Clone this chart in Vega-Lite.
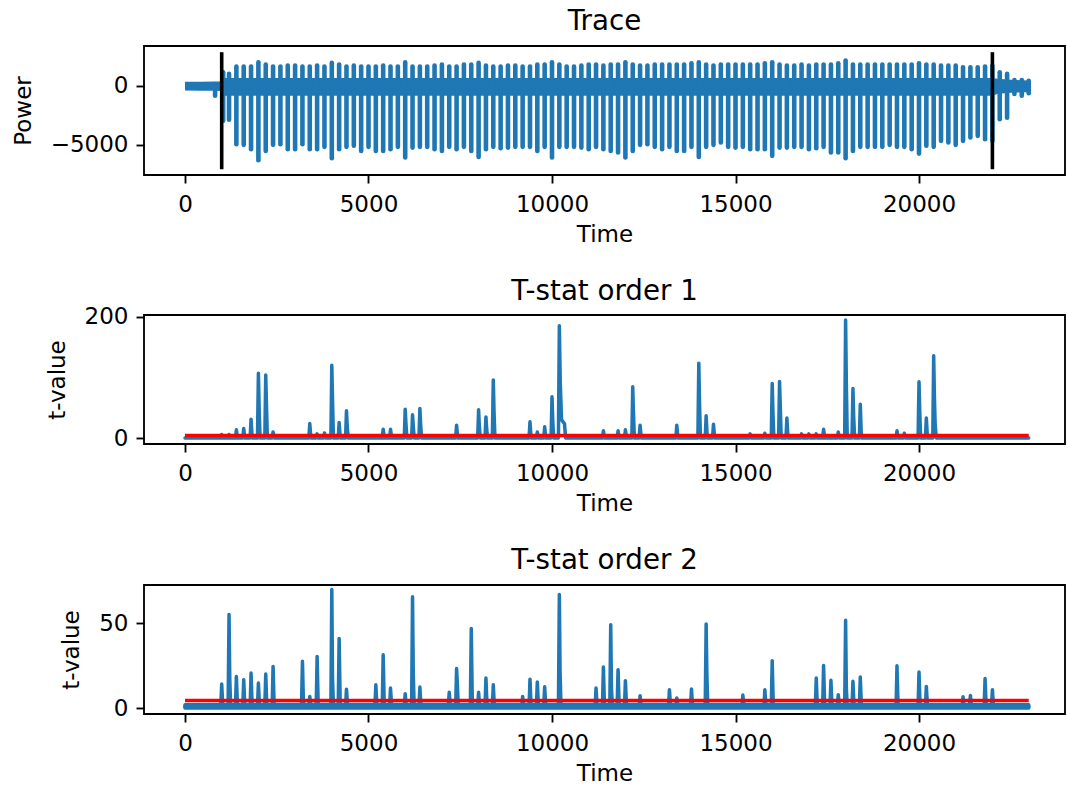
{
  "$schema": "https://vega.github.io/schema/vega-lite/v6.json",
  "padding": {"left": 11, "top": 7, "right": 0, "bottom": 0},
  "spacing": 30,
  "config": {
    "font": "DejaVu Sans",
    "view": {"stroke": "black", "strokeWidth": 1.85},
    "axis": {
      "domain": false, "grid": false, "ticks": true, "tickColor": "black", "tickWidth": 1.85, "tickSize": 8,
      "labelFont": "DejaVu Sans", "labelFontSize": 23, "labelColor": "black", "labelFlush": false,
      "titleFont": "DejaVu Sans", "titleFontSize": 23, "titleFontWeight": "normal", "titleColor": "black",
      "format": "d"
    },
    "axisX": {"labelPadding": 10, "titlePadding": 7},
    "axisY": {"labelPadding": 8, "titlePadding": 15},
    "title": {"font": "DejaVu Sans", "fontSize": 27.7, "fontWeight": "normal", "color": "black", "offset": 10, "baseline": "alphabetic"}
  },
  "datasets": {
    "trace_band": [
      {"t": 0, "lo": -420, "hi": 320},
      {"t": 400, "lo": -430, "hi": 330},
      {"t": 800, "lo": -440, "hi": 340},
      {"t": 990, "lo": -450, "hi": 350},
      {"t": 1000, "lo": -850, "hi": 650},
      {"t": 22000, "lo": -850, "hi": 650},
      {"t": 22150, "lo": -680, "hi": 580},
      {"t": 22500, "lo": -600, "hi": 500},
      {"t": 22990, "lo": -560, "hi": 440}
    ],
    "trace_spikes": [
      {"t": 820, "lo": -850, "hi": 0},
      {"t": 1040, "lo": -2970, "hi": 1130},
      {"t": 1200, "lo": -2880, "hi": 990},
      {"t": 1400, "lo": -4940, "hi": 1610},
      {"t": 1600, "lo": -5000, "hi": 1610},
      {"t": 1800, "lo": -5370, "hi": 1610},
      {"t": 2000, "lo": -6300, "hi": 1975},
      {"t": 2200, "lo": -5510, "hi": 1780},
      {"t": 2400, "lo": -5000, "hi": 1610},
      {"t": 2600, "lo": -4940, "hi": 1610},
      {"t": 2800, "lo": -5370, "hi": 1695},
      {"t": 3000, "lo": -5370, "hi": 1695},
      {"t": 3200, "lo": -4940, "hi": 1610},
      {"t": 3400, "lo": -5370, "hi": 1610},
      {"t": 3600, "lo": -5370, "hi": 1695},
      {"t": 3800, "lo": -5170, "hi": 1610},
      {"t": 4000, "lo": -6130, "hi": 1920},
      {"t": 4200, "lo": -5370, "hi": 1780},
      {"t": 4400, "lo": -5170, "hi": 1610},
      {"t": 4600, "lo": -5080, "hi": 1695},
      {"t": 4800, "lo": -5510, "hi": 1610},
      {"t": 5000, "lo": -5170, "hi": 1610},
      {"t": 5200, "lo": -5510, "hi": 1610},
      {"t": 5400, "lo": -5510, "hi": 1695},
      {"t": 5600, "lo": -5370, "hi": 1610},
      {"t": 5800, "lo": -5170, "hi": 1610},
      {"t": 6000, "lo": -6070, "hi": 1975},
      {"t": 6200, "lo": -5230, "hi": 1610},
      {"t": 6400, "lo": -5170, "hi": 1610},
      {"t": 6600, "lo": -5170, "hi": 1610},
      {"t": 6800, "lo": -5370, "hi": 1695},
      {"t": 7000, "lo": -5510, "hi": 1780},
      {"t": 7200, "lo": -5170, "hi": 1610},
      {"t": 7400, "lo": -5370, "hi": 1610},
      {"t": 7600, "lo": -5170, "hi": 1780},
      {"t": 7800, "lo": -5510, "hi": 1780},
      {"t": 8000, "lo": -6020, "hi": 1920},
      {"t": 8200, "lo": -5370, "hi": 1695},
      {"t": 8400, "lo": -5170, "hi": 1610},
      {"t": 8600, "lo": -5280, "hi": 1610},
      {"t": 8800, "lo": -5230, "hi": 1695},
      {"t": 9000, "lo": -5170, "hi": 1695},
      {"t": 9200, "lo": -5170, "hi": 1610},
      {"t": 9400, "lo": -5170, "hi": 1610},
      {"t": 9600, "lo": -5510, "hi": 1780},
      {"t": 9800, "lo": -5170, "hi": 1780},
      {"t": 10000, "lo": -6070, "hi": 1975},
      {"t": 10200, "lo": -5170, "hi": 1780},
      {"t": 10400, "lo": -5170, "hi": 1610},
      {"t": 10600, "lo": -5170, "hi": 1610},
      {"t": 10800, "lo": -5230, "hi": 1695},
      {"t": 11000, "lo": -5370, "hi": 1780},
      {"t": 11200, "lo": -5170, "hi": 1780},
      {"t": 11400, "lo": -5370, "hi": 1695},
      {"t": 11600, "lo": -5510, "hi": 1780},
      {"t": 11800, "lo": -5650, "hi": 1780},
      {"t": 12000, "lo": -6070, "hi": 1975},
      {"t": 12200, "lo": -5510, "hi": 1780},
      {"t": 12400, "lo": -5000, "hi": 1695},
      {"t": 12600, "lo": -4940, "hi": 1695},
      {"t": 12800, "lo": -5170, "hi": 1780},
      {"t": 13000, "lo": -5370, "hi": 1780},
      {"t": 13200, "lo": -5170, "hi": 1780},
      {"t": 13400, "lo": -5510, "hi": 1780},
      {"t": 13600, "lo": -5510, "hi": 1780},
      {"t": 13800, "lo": -5170, "hi": 1890},
      {"t": 14000, "lo": -6020, "hi": 1975},
      {"t": 14200, "lo": -5170, "hi": 1780},
      {"t": 14400, "lo": -5000, "hi": 1695},
      {"t": 14600, "lo": -4800, "hi": 1780},
      {"t": 14800, "lo": -5170, "hi": 1780},
      {"t": 15000, "lo": -5230, "hi": 1780},
      {"t": 15200, "lo": -5170, "hi": 1780},
      {"t": 15400, "lo": -5370, "hi": 1780},
      {"t": 15600, "lo": -5370, "hi": 1780},
      {"t": 15800, "lo": -5370, "hi": 1890},
      {"t": 16000, "lo": -5930, "hi": 1975},
      {"t": 16200, "lo": -5230, "hi": 1780},
      {"t": 16400, "lo": -5230, "hi": 1695},
      {"t": 16600, "lo": -5170, "hi": 1695},
      {"t": 16800, "lo": -5170, "hi": 1780},
      {"t": 17000, "lo": -5370, "hi": 1695},
      {"t": 17200, "lo": -5280, "hi": 1780},
      {"t": 17400, "lo": -5170, "hi": 1780},
      {"t": 17600, "lo": -5650, "hi": 1780},
      {"t": 17800, "lo": -5650, "hi": 1890},
      {"t": 18000, "lo": -6130, "hi": 2120},
      {"t": 18200, "lo": -5510, "hi": 1780},
      {"t": 18400, "lo": -5170, "hi": 1780},
      {"t": 18600, "lo": -5170, "hi": 1780},
      {"t": 18800, "lo": -5170, "hi": 1780},
      {"t": 19000, "lo": -5170, "hi": 1780},
      {"t": 19200, "lo": -5000, "hi": 1780},
      {"t": 19400, "lo": -5170, "hi": 1780},
      {"t": 19600, "lo": -5170, "hi": 1780},
      {"t": 19800, "lo": -5370, "hi": 1780},
      {"t": 20000, "lo": -5740, "hi": 1890},
      {"t": 20200, "lo": -5080, "hi": 1780},
      {"t": 20400, "lo": -5170, "hi": 1780},
      {"t": 20600, "lo": -4660, "hi": 1695},
      {"t": 20800, "lo": -4800, "hi": 1695},
      {"t": 21000, "lo": -5000, "hi": 1695},
      {"t": 21200, "lo": -4660, "hi": 1550},
      {"t": 21400, "lo": -4380, "hi": 1550},
      {"t": 21600, "lo": -4240, "hi": 1550},
      {"t": 21800, "lo": -4520, "hi": 1610},
      {"t": 22000, "lo": -4660, "hi": 1700},
      {"t": 22200, "lo": -2830, "hi": 1130},
      {"t": 22400, "lo": -2710, "hi": 990},
      {"t": 22600, "lo": -700, "hi": 480},
      {"t": 22800, "lo": -850, "hi": 480},
      {"t": 22990, "lo": -650, "hi": 400}
    ],
    "trace_markers": [
      {"t": 1000, "lo": -7060, "hi": 2822},
      {"t": 22000, "lo": -7060, "hi": 2822}
    ],
    "tstat1": [
      {"t": 0, "v": 0.3},
      {"t": 975, "v": 0.3}, {"t": 1000, "v": 6}, {"t": 1030, "v": 0.3},
      {"t": 1175, "v": 0.3}, {"t": 1200, "v": 6}, {"t": 1230, "v": 0.3},
      {"t": 1375, "v": 0.3}, {"t": 1400, "v": 13.7}, {"t": 1430, "v": 0.3},
      {"t": 1575, "v": 0.3}, {"t": 1600, "v": 15.9}, {"t": 1630, "v": 0.3},
      {"t": 1775, "v": 0.3}, {"t": 1800, "v": 31.3}, {"t": 1830, "v": 0.3},
      {"t": 1975, "v": 0.3}, {"t": 2000, "v": 107}, {"t": 2020, "v": 50}, {"t": 2045, "v": 0.3},
      {"t": 2175, "v": 0.3}, {"t": 2200, "v": 104}, {"t": 2220, "v": 53}, {"t": 2245, "v": 0.3},
      {"t": 2375, "v": 0.3}, {"t": 2400, "v": 10}, {"t": 2430, "v": 0.3},
      {"t": 3375, "v": 0.3}, {"t": 3400, "v": 24}, {"t": 3430, "v": 0.3},
      {"t": 3575, "v": 0.3}, {"t": 3600, "v": 7}, {"t": 3630, "v": 0.3},
      {"t": 3775, "v": 0.3}, {"t": 3800, "v": 8.5}, {"t": 3830, "v": 0.3},
      {"t": 3975, "v": 0.3}, {"t": 4000, "v": 120}, {"t": 4020, "v": 63}, {"t": 4045, "v": 0.3},
      {"t": 4175, "v": 0.3}, {"t": 4200, "v": 25.7}, {"t": 4230, "v": 0.3},
      {"t": 4375, "v": 0.3}, {"t": 4400, "v": 45}, {"t": 4420, "v": 20}, {"t": 4445, "v": 0.3},
      {"t": 5375, "v": 0.3}, {"t": 5400, "v": 14.8}, {"t": 5430, "v": 0.3},
      {"t": 5575, "v": 0.3}, {"t": 5600, "v": 14.8}, {"t": 5630, "v": 0.3},
      {"t": 5975, "v": 0.3}, {"t": 6000, "v": 47.8}, {"t": 6020, "v": 25}, {"t": 6045, "v": 0.3},
      {"t": 6175, "v": 0.3}, {"t": 6200, "v": 38.4}, {"t": 6220, "v": 20}, {"t": 6245, "v": 0.3},
      {"t": 6375, "v": 0.3}, {"t": 6400, "v": 48.8}, {"t": 6420, "v": 24}, {"t": 6445, "v": 0.3},
      {"t": 7375, "v": 0.3}, {"t": 7400, "v": 21.4}, {"t": 7430, "v": 0.3},
      {"t": 7975, "v": 0.3}, {"t": 8000, "v": 46.6}, {"t": 8020, "v": 20}, {"t": 8045, "v": 0.3},
      {"t": 8175, "v": 0.3}, {"t": 8200, "v": 35}, {"t": 8220, "v": 15}, {"t": 8245, "v": 0.3},
      {"t": 8375, "v": 0.3}, {"t": 8400, "v": 96}, {"t": 8420, "v": 45}, {"t": 8445, "v": 0.3},
      {"t": 9375, "v": 0.3}, {"t": 9400, "v": 26.9}, {"t": 9430, "v": 0.3},
      {"t": 9575, "v": 0.3}, {"t": 9600, "v": 10}, {"t": 9630, "v": 0.3},
      {"t": 9775, "v": 0.3}, {"t": 9800, "v": 18.6}, {"t": 9830, "v": 0.3},
      {"t": 9975, "v": 0.3}, {"t": 10000, "v": 68}, {"t": 10020, "v": 30}, {"t": 10045, "v": 0.3},
      {"t": 10175, "v": 0.3}, {"t": 10200, "v": 185}, {"t": 10225, "v": 91.6}, {"t": 10260, "v": 30}, {"t": 10340, "v": 24}, {"t": 10370, "v": 0.3},
      {"t": 11375, "v": 0.3}, {"t": 11400, "v": 12}, {"t": 11430, "v": 0.3},
      {"t": 11775, "v": 0.3}, {"t": 11800, "v": 12}, {"t": 11830, "v": 0.3},
      {"t": 11975, "v": 0.3}, {"t": 12000, "v": 13.7}, {"t": 12030, "v": 0.3},
      {"t": 12175, "v": 0.3}, {"t": 12200, "v": 84.6}, {"t": 12220, "v": 40}, {"t": 12245, "v": 0.3},
      {"t": 12375, "v": 0.3}, {"t": 12400, "v": 21.4}, {"t": 12430, "v": 0.3},
      {"t": 13375, "v": 0.3}, {"t": 13400, "v": 21.4}, {"t": 13430, "v": 0.3},
      {"t": 13975, "v": 0.3}, {"t": 14000, "v": 123.6}, {"t": 14020, "v": 57}, {"t": 14045, "v": 0.3},
      {"t": 14175, "v": 0.3}, {"t": 14200, "v": 36.8}, {"t": 14230, "v": 0.3},
      {"t": 14375, "v": 0.3}, {"t": 14400, "v": 23}, {"t": 14430, "v": 0.3},
      {"t": 15375, "v": 0.3}, {"t": 15400, "v": 7}, {"t": 15430, "v": 0.3},
      {"t": 15775, "v": 0.3}, {"t": 15800, "v": 8}, {"t": 15830, "v": 0.3},
      {"t": 15975, "v": 0.3}, {"t": 16000, "v": 90}, {"t": 16020, "v": 44}, {"t": 16045, "v": 0.3},
      {"t": 16175, "v": 0.3}, {"t": 16200, "v": 93.3}, {"t": 16220, "v": 53}, {"t": 16245, "v": 0.3},
      {"t": 16375, "v": 0.3}, {"t": 16400, "v": 33}, {"t": 16430, "v": 0.3},
      {"t": 16775, "v": 0.3}, {"t": 16800, "v": 7}, {"t": 16830, "v": 0.3},
      {"t": 16975, "v": 0.3}, {"t": 17000, "v": 7}, {"t": 17030, "v": 0.3},
      {"t": 17175, "v": 0.3}, {"t": 17200, "v": 7}, {"t": 17230, "v": 0.3},
      {"t": 17375, "v": 0.3}, {"t": 17400, "v": 14.8}, {"t": 17430, "v": 0.3},
      {"t": 17775, "v": 0.3}, {"t": 17800, "v": 10}, {"t": 17830, "v": 0.3},
      {"t": 17975, "v": 0.3}, {"t": 18000, "v": 194.5}, {"t": 18020, "v": 91}, {"t": 18045, "v": 0.3},
      {"t": 18175, "v": 0.3}, {"t": 18200, "v": 81.8}, {"t": 18220, "v": 36}, {"t": 18245, "v": 0.3},
      {"t": 18375, "v": 0.3}, {"t": 18400, "v": 56}, {"t": 18430, "v": 0.3},
      {"t": 19375, "v": 0.3}, {"t": 19400, "v": 12}, {"t": 19430, "v": 0.3},
      {"t": 19575, "v": 0.3}, {"t": 19600, "v": 8}, {"t": 19630, "v": 0.3},
      {"t": 19975, "v": 0.3}, {"t": 20000, "v": 92.8}, {"t": 20020, "v": 44}, {"t": 20045, "v": 0.3},
      {"t": 20175, "v": 0.3}, {"t": 20200, "v": 33}, {"t": 20230, "v": 0.3},
      {"t": 20375, "v": 0.3}, {"t": 20400, "v": 135.6}, {"t": 20420, "v": 67}, {"t": 20440, "v": 23}, {"t": 20470, "v": 0.3},
      {"t": 22990, "v": 0.3}
    ],
    "tstat2_floor": [
      {"t": 0, "v": 0.1, "v2": 2.0},
      {"t": 5000, "v": 0.1, "v2": 2.2},
      {"t": 10000, "v": 0.1, "v2": 2.1},
      {"t": 15000, "v": 0.1, "v2": 2.2},
      {"t": 22990, "v": 0.1, "v2": 2.0}
    ],
    "tstat2": [
      {"t": 0, "v": 1},
      {"t": 975, "v": 1}, {"t": 1000, "v": 14.2}, {"t": 1030, "v": 1},
      {"t": 1175, "v": 1}, {"t": 1200, "v": 55.2}, {"t": 1220, "v": 17}, {"t": 1245, "v": 1},
      {"t": 1375, "v": 1}, {"t": 1400, "v": 18.7}, {"t": 1430, "v": 1},
      {"t": 1575, "v": 1}, {"t": 1600, "v": 16.8}, {"t": 1630, "v": 1},
      {"t": 1775, "v": 1}, {"t": 1800, "v": 20.7}, {"t": 1830, "v": 1},
      {"t": 1975, "v": 1}, {"t": 2000, "v": 14.8}, {"t": 2030, "v": 1},
      {"t": 2175, "v": 1}, {"t": 2200, "v": 20.1}, {"t": 2230, "v": 1},
      {"t": 2375, "v": 1}, {"t": 2400, "v": 24.6}, {"t": 2430, "v": 1},
      {"t": 3175, "v": 1}, {"t": 3200, "v": 27.6}, {"t": 3230, "v": 1},
      {"t": 3375, "v": 1}, {"t": 3400, "v": 6.9}, {"t": 3430, "v": 1},
      {"t": 3575, "v": 1}, {"t": 3600, "v": 30.5}, {"t": 3630, "v": 1},
      {"t": 3975, "v": 1}, {"t": 4000, "v": 69.9}, {"t": 4020, "v": 17.7}, {"t": 4045, "v": 1},
      {"t": 4175, "v": 1}, {"t": 4200, "v": 41}, {"t": 4230, "v": 1},
      {"t": 4375, "v": 1}, {"t": 4400, "v": 11.2}, {"t": 4430, "v": 1},
      {"t": 5175, "v": 1}, {"t": 5200, "v": 13.8}, {"t": 5230, "v": 1},
      {"t": 5375, "v": 1}, {"t": 5400, "v": 31.5}, {"t": 5430, "v": 1},
      {"t": 5575, "v": 1}, {"t": 5600, "v": 11.8}, {"t": 5630, "v": 1},
      {"t": 5975, "v": 1}, {"t": 6000, "v": 8.5}, {"t": 6030, "v": 1},
      {"t": 6175, "v": 1}, {"t": 6200, "v": 65.6}, {"t": 6220, "v": 20}, {"t": 6245, "v": 1},
      {"t": 6375, "v": 1}, {"t": 6400, "v": 12.4}, {"t": 6430, "v": 1},
      {"t": 7175, "v": 1}, {"t": 7200, "v": 9.3}, {"t": 7230, "v": 1},
      {"t": 7375, "v": 1}, {"t": 7400, "v": 23.3}, {"t": 7420, "v": 15}, {"t": 7445, "v": 1},
      {"t": 7775, "v": 1}, {"t": 7800, "v": 46.9}, {"t": 7830, "v": 1},
      {"t": 7975, "v": 1}, {"t": 8000, "v": 9.3}, {"t": 8030, "v": 1},
      {"t": 8175, "v": 1}, {"t": 8200, "v": 17.7}, {"t": 8230, "v": 1},
      {"t": 8375, "v": 1}, {"t": 8400, "v": 13.8}, {"t": 8430, "v": 1},
      {"t": 9175, "v": 1}, {"t": 9200, "v": 6.9}, {"t": 9230, "v": 1},
      {"t": 9375, "v": 1}, {"t": 9400, "v": 17.1}, {"t": 9430, "v": 1},
      {"t": 9575, "v": 1}, {"t": 9600, "v": 15.4}, {"t": 9630, "v": 1},
      {"t": 9775, "v": 1}, {"t": 9800, "v": 12.6}, {"t": 9830, "v": 1},
      {"t": 10175, "v": 1}, {"t": 10200, "v": 67}, {"t": 10220, "v": 21.7}, {"t": 10245, "v": 1},
      {"t": 11175, "v": 1}, {"t": 11200, "v": 11.8}, {"t": 11230, "v": 1},
      {"t": 11375, "v": 1}, {"t": 11400, "v": 24.2}, {"t": 11430, "v": 1},
      {"t": 11575, "v": 1}, {"t": 11600, "v": 49.2}, {"t": 11620, "v": 12}, {"t": 11645, "v": 1},
      {"t": 11775, "v": 1}, {"t": 11800, "v": 22.7}, {"t": 11830, "v": 1},
      {"t": 11975, "v": 1}, {"t": 12000, "v": 16.2}, {"t": 12030, "v": 1},
      {"t": 12375, "v": 1}, {"t": 12400, "v": 7.3}, {"t": 12430, "v": 1},
      {"t": 13175, "v": 1}, {"t": 13200, "v": 10.9}, {"t": 13230, "v": 1},
      {"t": 13375, "v": 1}, {"t": 13400, "v": 6}, {"t": 13430, "v": 1},
      {"t": 13775, "v": 1}, {"t": 13800, "v": 11.3}, {"t": 13830, "v": 1},
      {"t": 14175, "v": 1}, {"t": 14200, "v": 49.6}, {"t": 14220, "v": 20}, {"t": 14245, "v": 1},
      {"t": 15175, "v": 1}, {"t": 15200, "v": 7.7}, {"t": 15230, "v": 1},
      {"t": 15775, "v": 1}, {"t": 15800, "v": 10.9}, {"t": 15830, "v": 1},
      {"t": 15975, "v": 1}, {"t": 16000, "v": 28}, {"t": 16030, "v": 1},
      {"t": 17175, "v": 1}, {"t": 17200, "v": 17.7}, {"t": 17230, "v": 1},
      {"t": 17375, "v": 1}, {"t": 17400, "v": 25.2}, {"t": 17430, "v": 1},
      {"t": 17575, "v": 1}, {"t": 17600, "v": 16.4}, {"t": 17630, "v": 1},
      {"t": 17775, "v": 1}, {"t": 17800, "v": 7.9}, {"t": 17830, "v": 1},
      {"t": 17975, "v": 1}, {"t": 18000, "v": 51.8}, {"t": 18020, "v": 12}, {"t": 18045, "v": 1},
      {"t": 18175, "v": 1}, {"t": 18200, "v": 15.8}, {"t": 18230, "v": 1},
      {"t": 18375, "v": 1}, {"t": 18400, "v": 18.3}, {"t": 18430, "v": 1},
      {"t": 19375, "v": 1}, {"t": 19400, "v": 25}, {"t": 19430, "v": 1},
      {"t": 19975, "v": 1}, {"t": 20000, "v": 21.3}, {"t": 20030, "v": 1},
      {"t": 20175, "v": 1}, {"t": 20200, "v": 12.8}, {"t": 20230, "v": 1},
      {"t": 21175, "v": 1}, {"t": 21200, "v": 6.7}, {"t": 21230, "v": 1},
      {"t": 21375, "v": 1}, {"t": 21400, "v": 7.5}, {"t": 21430, "v": 1},
      {"t": 21775, "v": 1}, {"t": 21800, "v": 17.4}, {"t": 21830, "v": 1},
      {"t": 21975, "v": 1}, {"t": 22000, "v": 10.9}, {"t": 22030, "v": 1},
      {"t": 22990, "v": 1}
    ],
    "threshold": [
      {"t": 0, "t2": 22990, "v": 4.5}
    ]
  },
  "vconcat": [
    {
      "title": {"text": "Trace"},
      "width": 921,
      "height": 129,
      "encoding": {
        "x": {"field": "t", "type": "quantitative", "scale": {"domain": [-1117, 23978], "nice": false, "zero": false}, "axis": {"title": "Time", "values": [0, 5000, 10000, 15000, 20000]}},
        "y": {"field": "lo", "type": "quantitative", "scale": {"domain": [-7545, 3345], "nice": false, "zero": false}, "axis": {"title": "Power", "values": [-5000, 0]}},
        "y2": {"field": "hi"}
      },
      "layer": [
        {"data": {"name": "trace_band"}, "mark": {"type": "area", "color": "#1f77b4", "opacity": 1}},
        {"data": {"name": "trace_spikes"}, "mark": {"type": "rule", "color": "#1f77b4", "strokeWidth": 4.6, "strokeCap": "round"}},
        {"data": {"name": "trace_markers"}, "mark": {"type": "rule", "color": "black", "strokeWidth": 3.6}}
      ]
    },
    {
      "title": {"text": "T-stat order 1", "offset": 0},
      "width": 921,
      "height": 129,
      "encoding": {
        "x": {"field": "t", "type": "quantitative", "scale": {"domain": [-1117, 23978], "nice": false, "zero": false}, "axis": {"title": "Time", "values": [0, 5000, 10000, 15000, 20000]}},
        "y": {"field": "v", "type": "quantitative", "scale": {"domain": [-9.66, 202.9], "nice": false, "zero": false}, "axis": {"title": "t-value", "values": [0, 200]}}
      },
      "layer": [
        {"data": {"name": "tstat1"}, "mark": {"type": "line", "color": "#1f77b4", "strokeWidth": 3.5, "strokeJoin": "round", "strokeCap": "round"}},
        {"data": {"name": "threshold"}, "mark": {"type": "rule", "color": "#ff0000", "strokeWidth": 3.5}, "encoding": {"x2": {"field": "t2"}}}
      ]
    },
    {
      "title": {"text": "T-stat order 2"},
      "width": 921,
      "height": 129,
      "encoding": {
        "x": {"field": "t", "type": "quantitative", "scale": {"domain": [-1117, 23978], "nice": false, "zero": false}, "axis": {"title": "Time", "values": [0, 5000, 10000, 15000, 20000]}},
        "y": {"field": "v", "type": "quantitative", "scale": {"domain": [-3.46, 72.6], "nice": false, "zero": false}, "axis": {"title": "t-value", "values": [0, 50]}}
      },
      "layer": [
        {"data": {"name": "tstat2_floor"}, "mark": {"type": "area", "color": "#1f77b4", "opacity": 1, "stroke": "#1f77b4", "strokeWidth": 3.5, "strokeJoin": "round"}, "encoding": {"y2": {"field": "v2"}}},
        {"data": {"name": "tstat2"}, "mark": {"type": "line", "color": "#1f77b4", "strokeWidth": 3.5, "strokeJoin": "round", "strokeCap": "round"}},
        {"data": {"name": "threshold"}, "mark": {"type": "rule", "color": "#ff0000", "strokeWidth": 3.5}, "encoding": {"x2": {"field": "t2"}}}
      ]
    }
  ]
}
